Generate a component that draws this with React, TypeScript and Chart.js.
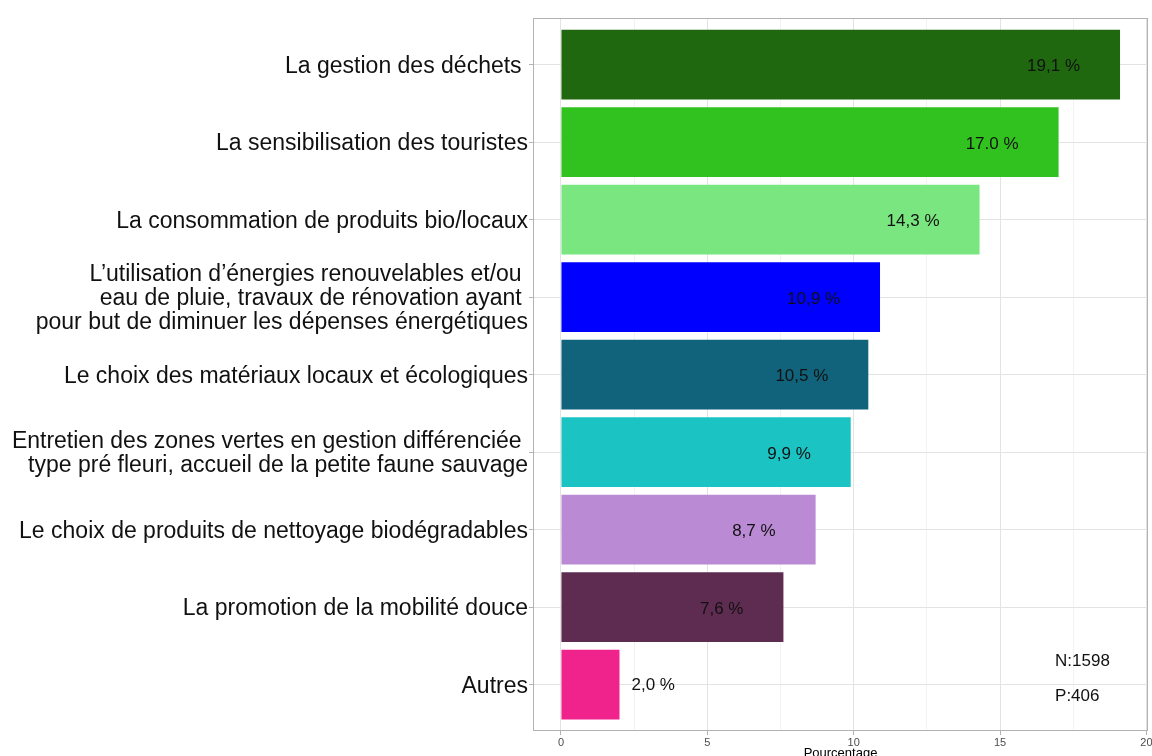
import React, { useEffect, useRef } from "react";
import { Chart, registerables } from "chart.js";

Chart.register(...registerables);

const categories: string[][] = [
  ["La gestion des déchets "],
  ["La sensibilisation des touristes"],
  ["La consommation de produits bio/locaux"],
  [
    "L’utilisation d’énergies renouvelables et/ou ",
    "eau de pluie, travaux de rénovation ayant ",
    "pour but de diminuer les dépenses énergétiques",
  ],
  ["Le choix des matériaux locaux et écologiques"],
  [
    "Entretien des zones vertes en gestion différenciée ",
    "type pré fleuri, accueil de la petite faune sauvage",
  ],
  ["Le choix de produits de nettoyage biodégradables"],
  ["La promotion de la mobilité douce"],
  ["Autres"],
];

const values: number[] = [19.1, 17.0, 14.3, 10.9, 10.5, 9.9, 8.7, 7.6, 2.0];
const valueLabels: string[] = ["19,1 %", "17.0 %", "14,3 %", "10,9 %", "10,5 %", "9,9 %", "8,7 %", "7,6 %", "2,0 %"];
const barColors: string[] = [
  "#1F6810",
  "#32C220",
  "#7AE67F",
  "#0000FF",
  "#10637B",
  "#1BC4C3",
  "#BB8AD4",
  "#5E2C50",
  "#F0228C",
];
const xTicks: number[] = [0, 2.5, 5, 7.5, 10, 12.5, 15, 17.5, 20];
const xMajorTicks: number[] = [0, 5, 10, 15, 20];
const notes: string[] = ["N:1598", "P:406"];
const noteX: number[] = [16.88, 16.88];
const noteY: number[] = [8.7, 9.15];

const FONT = "'Liberation Sans', Arial, Helvetica, sans-serif";

const overlay = {
  id: "overlay",
  afterDatasetsDraw(chart: any) {
    const ctx = chart.ctx;
    const meta = chart.getDatasetMeta(0);
    const xs = chart.scales.x;
    const ys = chart.scales.y;
    ctx.save();
    ctx.font = `17px ${FONT}`;
    ctx.fillStyle = "#111111";
    ctx.textBaseline = "middle";
    meta.data.forEach((el: any, i: number) => {
      const v = values[i];
      if (v < 5) {
        ctx.textAlign = "left";
        ctx.fillText(valueLabels[i], el.x + 12, el.y + 1);
      } else {
        ctx.textAlign = "right";
        ctx.fillText(valueLabels[i], el.x - 40, el.y + 2);
      }
    });
    ctx.textAlign = "left";
    notes.forEach((t, i) => {
      ctx.fillText(t, xs.getPixelForValue(noteX[i]), ys.getPixelForValue(noteY[i]));
    });
    const a = chart.chartArea;
    ctx.strokeStyle = "#b3b3b3";
    ctx.lineWidth = 1;
    ctx.strokeRect(a.left + 0.5, a.top + 0.5, a.right - a.left - 1, a.bottom - a.top - 1);
    ctx.restore();
  },
};

export default function App() {
  const ref = useRef<HTMLCanvasElement | null>(null);

  useEffect(() => {
    if (!ref.current) return;
    const chart = new Chart(ref.current, {
      type: "bar",
      data: {
        datasets: [
          {
            data: values.map((v, i) => ({ x: v, y: i + 1 })),
            backgroundColor: barColors,
            borderWidth: 0,
            barPercentage: 0.9,
            categoryPercentage: 1,
          },
        ],
      },
      options: {
        indexAxis: "y",
        responsive: false,
        animation: false,
        layout: { padding: { top: 18, right: 4, left: 0, bottom: 0 } },
        plugins: { legend: { display: false }, tooltip: { enabled: false } },
        scales: {
          x: {
            type: "linear",
            min: -0.955,
            max: 20.055,
            offset: false,
            afterBuildTicks: (s: any) => {
              s.ticks = xTicks.map((v) => ({ value: v }));
            },
            afterFit: (s: any) => {
              s.height = 25;
              s.paddingLeft = 0;
              s.paddingRight = 0;
            },
            ticks: {
              autoSkip: false,
              maxRotation: 0,
              padding: 1,
              color: "#4d4d4d",
              font: { family: FONT, size: 11 },
              callback: (v: any) => (xMajorTicks.includes(Number(v)) ? String(v) : ""),
            },
            grid: {
              offset: false,
              color: (c: any) => (xMajorTicks.includes(c.tick?.value) ? "#e3e3e3" : "#f2f2f2"),
              tickColor: (c: any) => (xMajorTicks.includes(c.tick?.value) ? "#b3b3b3" : "rgba(0,0,0,0)"),
              tickLength: 4,
              lineWidth: 1,
            },
            border: { display: false },
            title: {
              display: true,
              text: "Pourcentage",
              color: "#000",
              font: { family: FONT, size: 13 },
              padding: { top: 0, bottom: -5 },
            },
          },
          y: {
            type: "linear",
            reverse: true,
            min: 0.4,
            max: 9.6,
            offset: false,
            afterBuildTicks: (s: any) => {
              s.ticks = categories.map((_, i) => ({ value: i + 1 }));
            },
            afterFit: (s: any) => {
              s.width = 533;
              s.paddingTop = 0;
              s.paddingBottom = 0;
            },
            ticks: {
              autoSkip: false,
              padding: 1,
              labelOffset: 2,
              color: "#111111",
              font: { family: FONT, size: 23, lineHeight: 1.05 },
              callback: (v: any) => {
                const idx = Math.round(Number(v)) - 1;
                const c = categories[idx];
                if (!c) return "";
                return c.length === 1 ? c[0] : c;
              },
            },
            grid: {
              offset: false,
              color: "#e3e3e3",
              tickColor: "#b3b3b3",
              tickLength: 4,
              lineWidth: 1,
            },
            border: { display: false },
          },
        },
      },
      plugins: [overlay],
    } as any);
    return () => chart.destroy();
  }, []);

  return (
    <div style={{ position: "absolute", left: 0, top: 0, width: 1152, height: 756, background: "#fff" }}>
      <canvas ref={ref} width={1152} height={756} style={{ display: "block" }} />
    </div>
  );
}
